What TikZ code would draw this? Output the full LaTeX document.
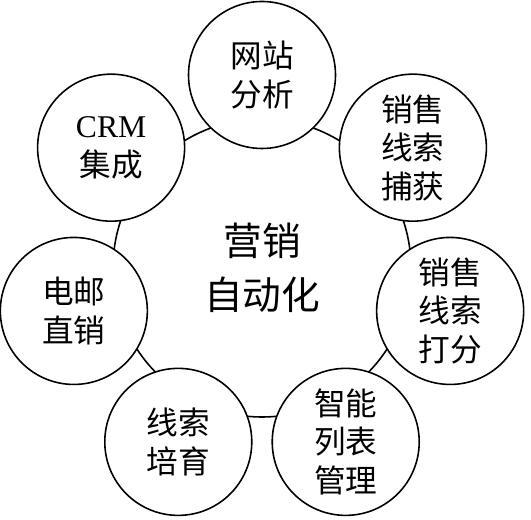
\documentclass[tikz,border=0pt]{standalone}
\usepackage{fontspec}
\setmainfont{Liberation Serif}
\newfontfamily\cjk{Noto Sans CJK SC}
\usetikzlibrary{positioning, calc}

\begin{document}
\begin{tikzpicture}[
    font=\cjk,
    hub/.style={
        circle,
        draw=black,
        line width=0.9pt,
        minimum size=5.96cm,
        align=center,
        font=\cjk\fontsize{22}{31}\selectfont
    },
    task/.style={
        circle,
        draw=black,
        fill=white,
        line width=0.9pt,
        minimum size=2.94cm,
        inner sep=0pt,
        align=center,
        font=\cjk\fontsize{18}{22}\selectfont
    }
]

% Set bounding box to the size of the page
\useasboundingbox (0,0) rectangle (10.62,10.40);

% ================= CENTRE =================
\node[hub] (auto) at (5.24,5.04) {营销\\自动化};

% ================= TASKS (ring of seven) =================
\node[task] (web)    at ($(auto)+(90:3.86)$)      {网站\\分析};
\node[task] (crm)    at ($(auto)+(141.43:3.86)$)  {{\rmfamily CRM}\\集成};
\node[task] (mail)   at ($(auto)+(192.86:3.86)$)  {电邮\\直销};
\node[task] (nurture) at ($(auto)+(244.29:3.86)$) {线索\\培育};
\node[task] (lists)  at ($(auto)+(295.71:3.86)$)  {智能\\列表\\管理};
\node[task] (score)  at ($(auto)+(347.14:3.86)$)  {销售\\线索\\打分};
\node[task] (capture) at ($(auto)+(38.57:3.86)$)  {销售\\线索\\捕获};

\end{tikzpicture}
\end{document}
